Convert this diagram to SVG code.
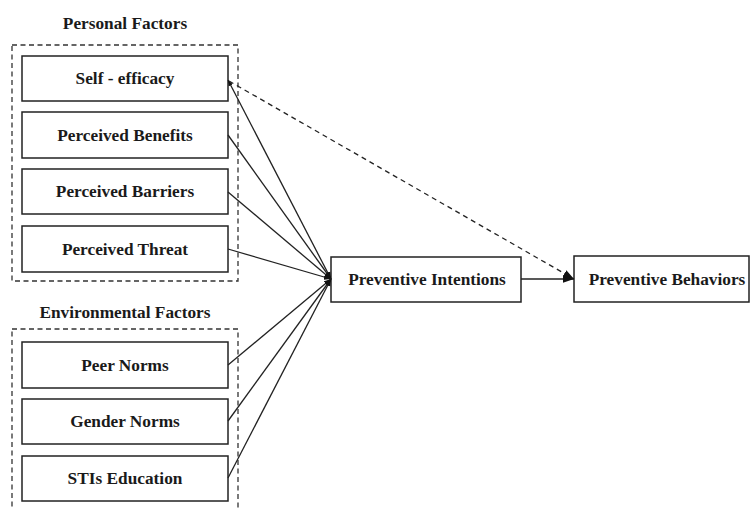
<svg xmlns="http://www.w3.org/2000/svg" width="751" height="508" viewBox="0 0 751 508">
<style>
  .box{fill:#fff;stroke:#222;stroke-width:1.5}
  .grp{fill:none;stroke:#333;stroke-width:1.3;stroke-dasharray:5,3.5}
  .t{font-family:"Liberation Serif","Times New Roman",serif;font-weight:bold;font-size:17.3px;fill:#1a1a1a;text-anchor:middle}
  .ln{fill:none;stroke:#222;stroke-width:1.3}
  .dl{fill:none;stroke:#222;stroke-width:1.3;stroke-dasharray:5,4}
</style>
<defs>
  <marker id="ah" viewBox="0 0 10 10" refX="10" refY="5" markerWidth="7" markerHeight="7" orient="auto" markerUnits="userSpaceOnUse">
    <path d="M0,1 L10,5 L0,9 Z" fill="#111"/>
  </marker>
  <marker id="ah2" viewBox="0 0 10 10" refX="10" refY="5" markerWidth="11" markerHeight="11" orient="auto" markerUnits="userSpaceOnUse">
    <path d="M0,1.5 L10,5 L0,8.5 Z" fill="#111"/>
  </marker>
  <marker id="as" viewBox="0 0 10 10" refX="0" refY="5" markerWidth="6" markerHeight="6" orient="auto" markerUnits="userSpaceOnUse">
    <path d="M10,1 L0,5 L10,9 Z" fill="#111"/>
  </marker>
</defs>

<g id="personal-factors">
  <text class="t" x="125" y="29">Personal Factors</text>
  <rect class="grp" x="12" y="45" width="226" height="236"/>
</g>
<g id="environmental-factors">
  <text class="t" x="125" y="318">Environmental Factors</text>
  <rect class="grp" x="12" y="329" width="226" height="190"/>
</g>

<g id="self-efficacy"><rect class="box" x="22" y="56" width="206" height="45"/><text class="t" x="125" y="84">Self - efficacy</text></g>
<g id="perceived-benefits"><rect class="box" x="22" y="112" width="206" height="46"/><text class="t" x="125" y="141">Perceived Benefits</text></g>
<g id="perceived-barriers"><rect class="box" x="22" y="169" width="206" height="45"/><text class="t" x="125" y="197">Perceived Barriers</text></g>
<g id="perceived-threat"><rect class="box" x="22" y="226" width="206" height="46"/><text class="t" x="125" y="255">Perceived Threat</text></g>
<g id="peer-norms"><rect class="box" x="22" y="342" width="206" height="46"/><text class="t" x="125" y="371">Peer Norms</text></g>
<g id="gender-norms"><rect class="box" x="22" y="399" width="206" height="45"/><text class="t" x="125" y="427">Gender Norms</text></g>
<g id="stis-education"><rect class="box" x="22" y="456" width="206" height="45"/><text class="t" x="125" y="484">STIs Education</text></g>

<g id="preventive-intentions"><rect class="box" x="331" y="257" width="190" height="45"/><text class="t" x="427" y="285">Preventive Intentions</text></g>
<g id="preventive-behaviors"><rect class="box" x="574" y="256" width="175" height="46"/><text class="t" x="667" y="285">Preventive Behaviors</text></g>

<g id="connectors">
  <line class="ln" x1="228" y1="80" x2="331" y2="279" marker-start="url(#as)" marker-end="url(#ah)"/>
  <line class="ln" x1="228" y1="135" x2="331" y2="279" marker-end="url(#ah)"/>
  <line class="ln" x1="228" y1="192" x2="331" y2="279" marker-end="url(#ah)"/>
  <line class="ln" x1="228" y1="249" x2="331" y2="279" marker-end="url(#ah)"/>
  <line class="ln" x1="228" y1="365" x2="331" y2="279" marker-end="url(#ah)"/>
  <line class="ln" x1="228" y1="421" x2="331" y2="279" marker-end="url(#ah)"/>
  <line class="ln" x1="228" y1="478" x2="331" y2="279" marker-end="url(#ah)"/>
  <line class="ln" x1="521" y1="279" x2="574" y2="279" marker-end="url(#ah2)"/>
  <line class="dl" x1="229" y1="81" x2="574" y2="279" marker-end="url(#ah2)"/>
</g>
</svg>
